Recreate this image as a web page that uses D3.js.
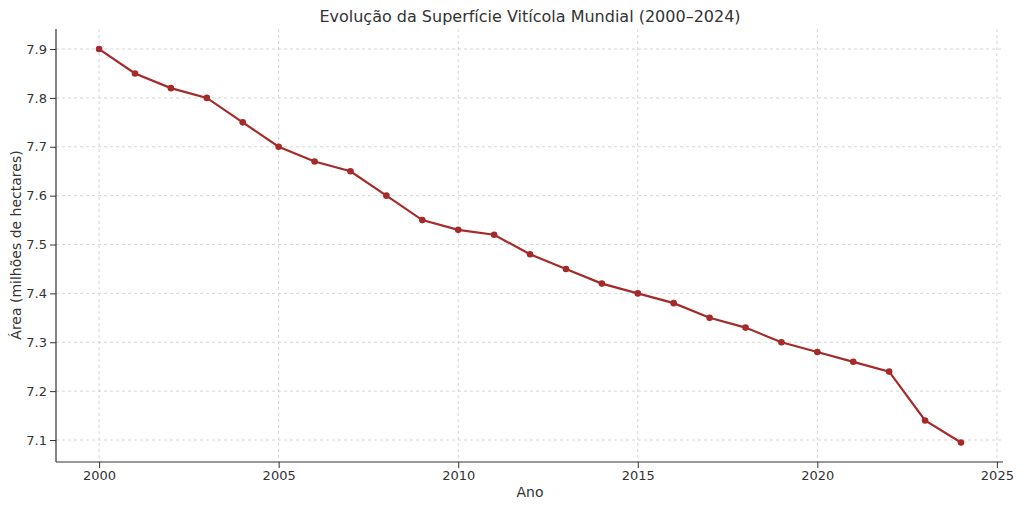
<!DOCTYPE html>
<html><head><meta charset="utf-8">
<script src="https://cdn.jsdelivr.net/npm/d3@7"></script>
<style>body{margin:0;background:#fff}text{font-family:"DejaVu Sans",sans-serif;fill:#333}</style>
</head><body><div id="chart"></div>
<script>
// chart data
const years = d3.range(2000, 2025);
const area = [7.90, 7.85, 7.82, 7.80, 7.75, 7.70, 7.67, 7.65, 7.60, 7.55, 7.53, 7.52, 7.48,
  7.45, 7.42, 7.40, 7.38, 7.35, 7.33, 7.30, 7.28, 7.26, 7.24, 7.14, 7.095];
const xTicks = [2000, 2005, 2010, 2015, 2020, 2025];
const yTicks = [7.1, 7.2, 7.3, 7.4, 7.5, 7.6, 7.7, 7.8, 7.9];

const W = 1024, H = 508;
const svg = d3.select("#chart").append("svg").attr("width", W).attr("height", H);

const x = d3.scaleLinear().domain([1998.8, 2025.17]).range([56, 1003]);
const y = d3.scaleLinear().domain([7.055, 7.941]).range([462, 29]);

// grid
svg.append("g").selectAll("line").data(xTicks).join("line")
  .attr("x1", d => x(d)).attr("x2", d => x(d)).attr("y1", 29).attr("y2", 462)
  .attr("stroke", "#ccc").attr("stroke-width", 0.8).attr("stroke-dasharray", "3,3");
svg.append("g").selectAll("line").data(yTicks).join("line")
  .attr("x1", 56).attr("x2", 1003).attr("y1", d => y(d)).attr("y2", d => y(d))
  .attr("stroke", "#ccc").attr("stroke-width", 0.8).attr("stroke-dasharray", "3,3");

// axes
const xAxis = svg.append("g").attr("transform", "translate(0,462)")
  .call(d3.axisBottom(x).tickValues(xTicks).tickFormat(d3.format("d")).tickSizeOuter(0));
const yAxis = svg.append("g").attr("transform", "translate(56,0)")
  .call(d3.axisLeft(y).tickValues(yTicks).tickFormat(d3.format(".1f")).tickSizeOuter(0));
[xAxis, yAxis].forEach(a => {
  a.select(".domain").attr("stroke", "#333").attr("stroke-width", 1.2);
  a.selectAll(".tick line").attr("stroke", "#333");
  a.selectAll("text").style("font-size", "13px").style("fill", "#333");
});
// extend domains to chart edges
xAxis.select(".domain").attr("d", "M56,0H1003");
yAxis.select(".domain").attr("d", "M0,29V462");

// line
svg.append("path").datum(years)
  .attr("fill", "none").attr("stroke", "#a52a2a").attr("stroke-width", 2.2)
  .attr("d", d3.line().x(d => x(d)).y((d, i) => y(area[i])));
svg.append("g").selectAll("circle").data(years).join("circle")
  .attr("cx", d => x(d)).attr("cy", (d, i) => y(area[i])).attr("r", 3.3).attr("fill", "#a52a2a");

// labels
svg.append("text").attr("x", 530).attr("y", 22).attr("text-anchor", "middle")
  .style("font-size", "16px").text("Evolução da Superfície Vitícola Mundial (2000–2024)");
svg.append("text").attr("x", 530).attr("y", 497).attr("text-anchor", "middle")
  .style("font-size", "14px").text("Ano");
svg.append("text").attr("transform", "translate(21,245) rotate(-90)").attr("text-anchor", "middle")
  .style("font-size", "14px").text("Área (milhões de hectares)");
</script></body></html>
